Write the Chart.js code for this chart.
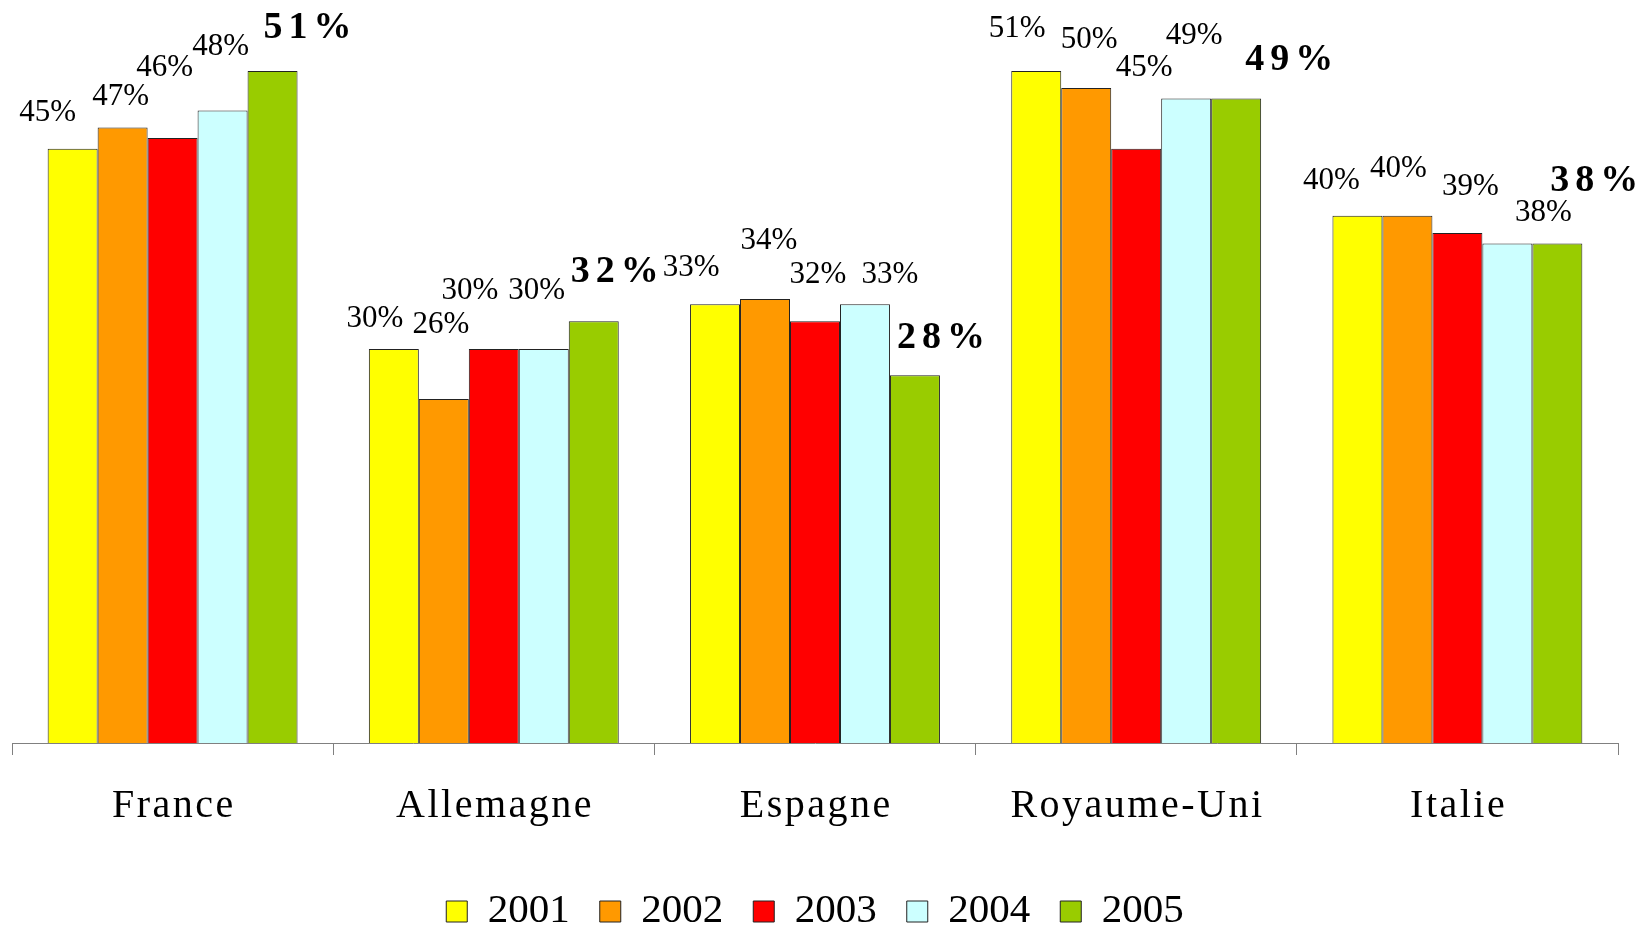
<!DOCTYPE html>
<html>
<head>
<meta charset="utf-8">
<script src="https://cdn.jsdelivr.net/npm/chart.js@4"></script>
<style>
  html, body { margin: 0; padding: 0; background: #fff; }
  #wrap { width: 1641px; height: 925px; position: relative; }
</style>
</head>
<body>
<div id="wrap"><canvas id="chart"></canvas></div>
<script>
const countries = ["France", "Allemagne", "Espagne", "Royaume-Uni", "Italie"];
const years = ["2001", "2002", "2003", "2004", "2005"];

// share in %
const share2001 = [45.1, 29.9, 33.3, 51.0, 40.0];
const share2002 = [46.7, 26.1, 33.7, 49.7, 40.0];
const share2003 = [45.9, 29.9, 32.0, 45.1, 38.7];
const share2004 = [48.0, 29.9, 33.3, 48.9, 37.9];
const share2005 = [51.0, 32.0, 27.9, 48.9, 37.9];

const colors = ["#ffff00", "#ff9900", "#ff0000", "#ccffff", "#99cc00"];

// label placement: [dx, dy] from the top centre of each bar (the original is hand placed)
const labelNudge = [
  [[-25, -36], [-19, -30], [-24, -36], [-19, -42], [-26, -35]],
  [[-2, -31], [-3, -74], [4, -58], [3, -48], [-9, -47]],
  [[-8, -70], [-24, -58], [3, -46], [8, -81], [13, -46]],
  [[-2, -64], [-7, -58], [25, -29], [8, -63], [36, -31]],
  [[35, -43], [21, -49], [26, -37], [53, -38], [37, -62]]
];

const series = [share2001, share2002, share2003, share2004, share2005];

const valueLabels = {
  id: 'valueLabels',
  afterDatasetsDraw(chart) {
    const ctx = chart.ctx;
    ctx.save();
    ctx.fillStyle = '#000';
    ctx.textAlign = 'center';
    ctx.textBaseline = 'middle';
    chart.data.datasets.forEach((ds, s) => {
      const last = s === chart.data.datasets.length - 1;
      ctx.font = last ? 'bold 38px "Liberation Serif"' : '31px "Liberation Serif"';
      ctx.letterSpacing = last ? '6px' : '0px';
      chart.getDatasetMeta(s).data.forEach((bar, i) => {
        const [dx, dy] = labelNudge[s][i];
        const txt = Math.round(ds.data[i]) + '%';
        ctx.fillText(txt, bar.x + dx + (last ? 3 : 0), bar.y + dy);
      });
    });
    ctx.restore();
  }
};

// category names, drawn with the wide letter spacing of the original
const spacedTicks = {
  id: 'spacedTicks',
  afterDraw(chart) {
    const ctx = chart.ctx, x = chart.scales.x;
    ctx.save();
    ctx.font = '40px "Liberation Serif"';
    ctx.letterSpacing = '2.5px';
    ctx.fillStyle = '#000';
    ctx.textAlign = 'center';
    ctx.textBaseline = 'middle';
    countries.forEach((c, i) => ctx.fillText(c, x.getPixelForValue(i) + 1.25, x.top + 63));
    ctx.restore();
  }
};

new Chart(document.getElementById('chart'), {
  type: 'bar',
  data: {
    labels: countries,
    datasets: years.map((y, s) => ({
      label: y,
      data: series[s],
      backgroundColor: colors[s],
      borderColor: '#222',
      borderWidth: 1,
      categoryPercentage: 0.778,
      barPercentage: 1.0
    }))
  },
  options: {
    responsive: true,
    maintainAspectRatio: false,
    animation: false,
    layout: { padding: { top: 5, left: 12, right: 23, bottom: -17 } },
    scales: {
      x: {
        grid: { drawOnChartArea: false, drawTicks: true, tickLength: 12, color: '#808080', offset: true },
        border: { display: true, color: '#808080', width: 1 },
        ticks: { color: 'rgba(0,0,0,0)', font: { family: 'Liberation Serif', size: 40 }, padding: 29 }
      },
      y: { display: false, min: 0, max: 56 }
    },
    plugins: {
      legend: {
        position: 'bottom',
        labels: {
          boxWidth: 21,
          boxHeight: 21,
          padding: 30,
          color: '#000',
          font: { family: 'Liberation Serif', size: 41 }
        }
      },
      tooltip: { enabled: false }
    }
  },
  plugins: [valueLabels, spacedTicks]
});
</script>
</body>
</html>
